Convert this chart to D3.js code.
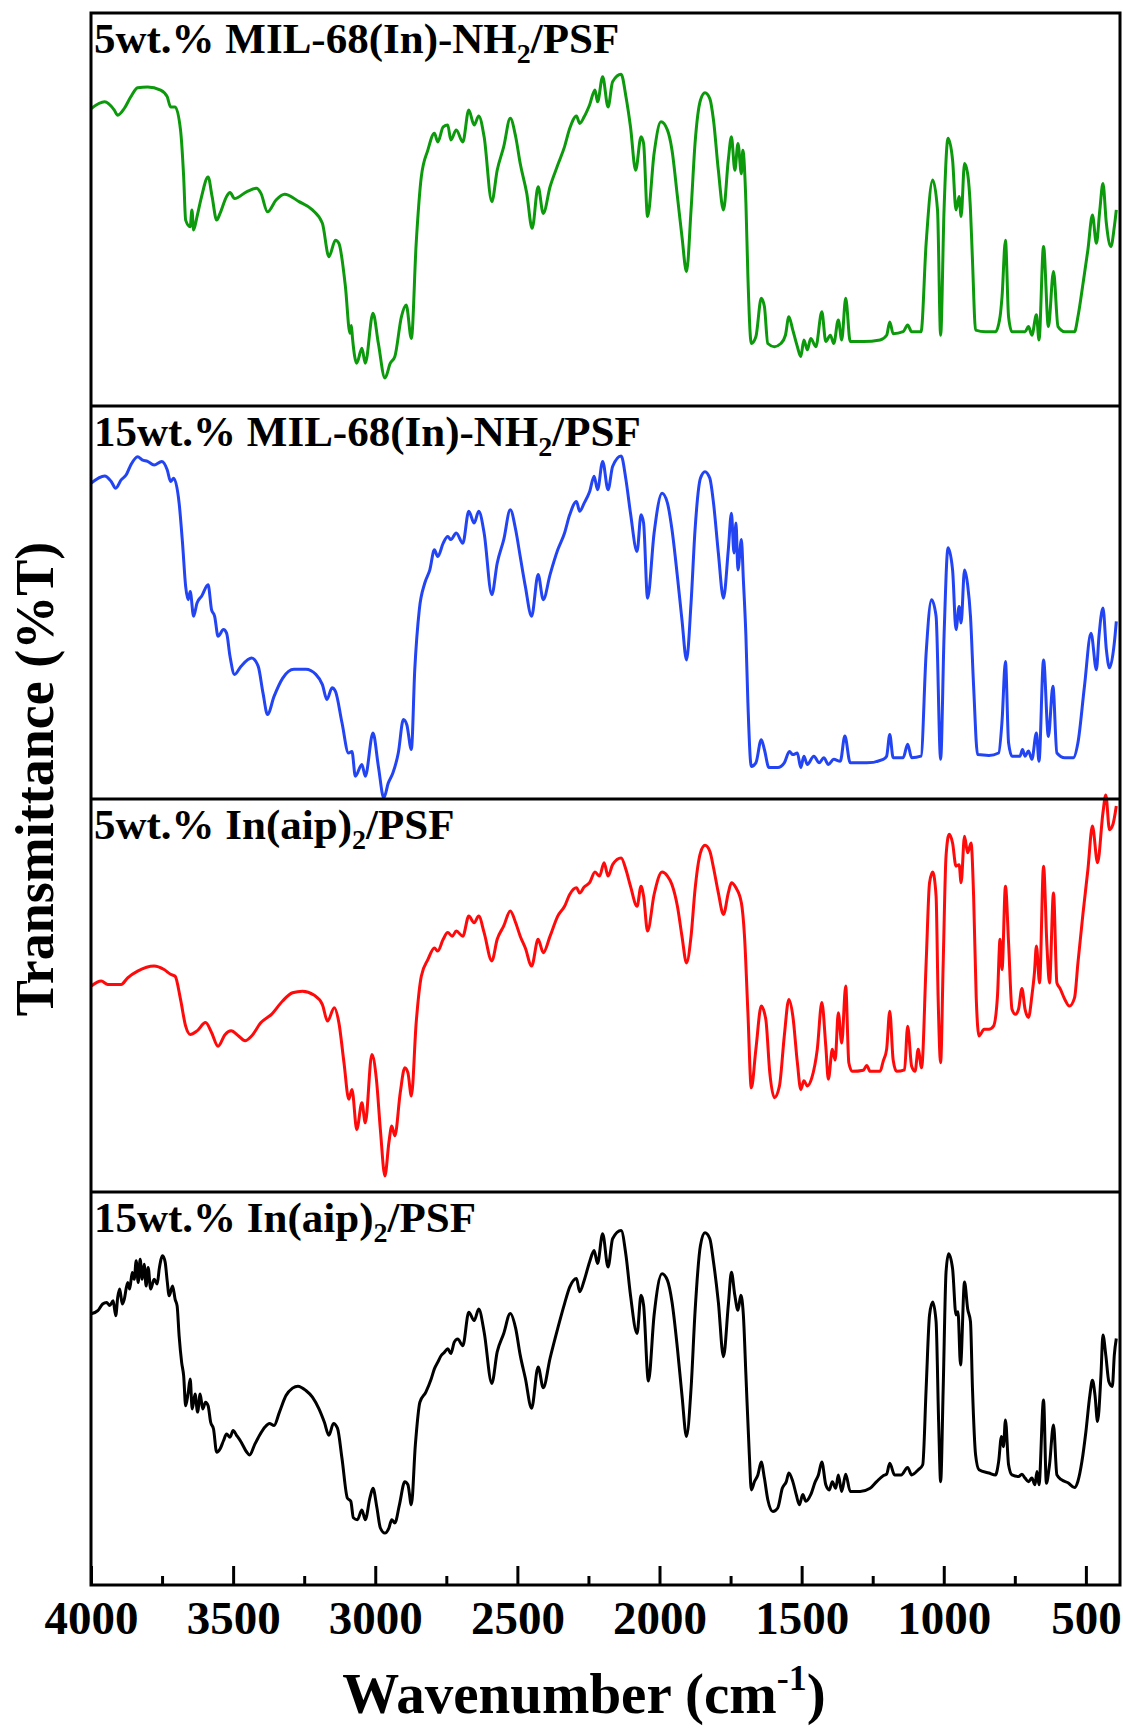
<!DOCTYPE html>
<html>
<head>
<meta charset="utf-8">
<script src="https://cdn.jsdelivr.net/npm/d3@7"></script>
<style>
  body { margin: 0; background: #fff; }
  svg text { font-family: "Liberation Serif", "Times New Roman", serif; font-weight: bold; fill: #000; }
</style>
</head>
<body>
<div id="chart"></div>
<script>
// FTIR spectra, [wavenumber (cm-1), transmittance (arb. %T, per panel)]
const mil5 = [[3999,75.7],[3952,77.4],[3918,75.3],[3906,74.0],[3883,75.7],[3860,78.7],[3836,81.0],[3801,81.2],[3755,80.4],[3732,78.7],[3720,76.1],[3704,76.1],[3685,70.2],[3674,58.3],[3667,47.3],[3651,45.6],[3645,49.9],[3639,44.8],[3627,48.2],[3611,53.3],[3588,58.3],[3574,53.3],[3558,47.3],[3546,49.0],[3523,53.3],[3511,54.3],[3495,52.8],[3453,54.5],[3418,55.4],[3402,54.1],[3379,49.4],[3349,52.4],[3319,53.9],[3268,52.0],[3221,49.9],[3186,46.5],[3163,38.0],[3140,42.2],[3128,41.4],[3105,30.4],[3089,18.5],[3084,20.5],[3080,17.2],[3065,10.9],[3047,14.7],[3035,10.9],[3008,23.6],[2989,15.9],[2966,7.1],[2947,10.9],[2931,12.6],[2908,22.7],[2891,25.7],[2873,17.2],[2856,41.4],[2838,58.3],[2815,65.1],[2792,69.4],[2780,67.2],[2761,71.0],[2745,71.5],[2734,67.7],[2715,70.2],[2692,67.2],[2671,75.3],[2652,71.5],[2636,73.8],[2617,68.5],[2590,52.0],[2571,60.0],[2548,66.0],[2525,73.2],[2506,68.5],[2490,61.7],[2467,54.1],[2448,45.2],[2427,55.8],[2409,49.0],[2385,55.8],[2358,61.3],[2334,66.0],[2316,70.6],[2292,73.8],[2281,71.9],[2265,73.6],[2246,76.6],[2227,80.4],[2218,77.4],[2200,83.8],[2181,76.1],[2165,82.5],[2135,84.4],[2118,78.7],[2102,71.0],[2084,60.0],[2065,68.5],[2056,66.8],[2042,48.2],[2019,64.3],[1995,72.3],[1972,70.2],[1956,65.1],[1937,53.3],[1921,43.1],[1905,34.2],[1889,49.9],[1875,66.8],[1856,77.8],[1840,79.7],[1823,78.2],[1810,72.7],[1793,60.0],[1775,49.9],[1758,62.6],[1747,68.5],[1735,60.0],[1724,66.8],[1712,59.1],[1707,65.1],[1696,51.6],[1689,32.9],[1677,15.9],[1661,17.6],[1642,27.4],[1631,25.3],[1619,15.9],[1596,15.1],[1573,15.9],[1557,18.0],[1545,22.7],[1531,19.3],[1515,15.1],[1503,12.6],[1492,16.8],[1480,14.3],[1468,17.2],[1450,15.1],[1429,24.0],[1415,16.4],[1399,18.0],[1387,15.9],[1371,21.9],[1359,16.8],[1345,27.4],[1329,16.4],[1283,16.4],[1224,16.8],[1201,18.0],[1190,21.4],[1178,18.4],[1143,18.9],[1127,20.6],[1113,18.9],[1080,18.9],[1062,41.4],[1039,57.5],[1022,49.9],[1011,18.0],[999,49.9],[985,68.1],[969,62.6],[957,49.9],[946,53.3],[939,48.2],[927,61.7],[916,59.1],[906,49.9],[899,37.1],[888,19.3],[853,18.9],[818,18.9],[802,22.7],[795,27.8],[783,42.2],[772,22.7],[760,18.9],[714,18.9],[702,20.2],[690,18.0],[674,23.2],[665,16.8],[649,40.6],[632,20.2],[614,34.2],[598,20.2],[574,18.9],[540,18.9],[528,22.7],[510,31.2],[493,39.7],[477,48.6],[463,41.4],[451,49.9],[440,56.6],[428,46.5],[412,40.6],[400,45.6],[393,49.9]];

const mil15 = [[3999,80.4],[3952,82.2],[3929,80.8],[3913,79.1],[3894,81.2],[3876,82.5],[3860,85.0],[3836,87.1],[3820,86.3],[3801,85.9],[3778,85.0],[3751,85.9],[3732,83.8],[3720,80.8],[3709,81.6],[3690,75.3],[3678,65.1],[3667,54.1],[3658,50.7],[3651,52.8],[3639,46.5],[3627,49.9],[3611,51.6],[3588,54.5],[3576,48.2],[3565,46.5],[3553,41.4],[3534,43.1],[3523,42.2],[3511,36.3],[3495,31.7],[3472,33.8],[3435,35.9],[3412,33.8],[3395,27.0],[3379,21.5],[3356,26.1],[3326,30.7],[3286,33.0],[3244,33.0],[3209,31.7],[3186,29.1],[3170,25.3],[3152,28.3],[3140,27.4],[3117,19.4],[3094,11.7],[3082,12.1],[3070,5.8],[3047,8.8],[3035,5.8],[3008,16.8],[2989,8.3],[2970,0.3],[2954,4.1],[2938,6.6],[2919,11.7],[2901,20.2],[2889,18.9],[2873,12.6],[2861,32.9],[2845,48.2],[2826,54.9],[2808,58.3],[2792,63.4],[2780,61.7],[2761,65.1],[2745,66.8],[2734,66.0],[2715,67.7],[2692,65.1],[2671,73.2],[2652,70.2],[2636,73.2],[2617,67.7],[2590,52.0],[2571,60.0],[2548,66.0],[2525,73.6],[2506,68.5],[2490,61.7],[2472,54.1],[2450,46.5],[2427,57.1],[2409,50.7],[2385,57.1],[2358,63.4],[2334,67.7],[2316,72.3],[2292,75.7],[2281,73.2],[2265,75.3],[2246,78.2],[2230,82.1],[2218,78.7],[2200,85.9],[2181,78.7],[2165,84.6],[2135,87.3],[2118,81.2],[2102,72.7],[2079,63.0],[2065,72.3],[2056,70.2],[2042,51.1],[2019,67.7],[1991,77.8],[1972,75.3],[1956,68.5],[1937,56.6],[1921,45.6],[1905,35.4],[1889,49.9],[1875,68.5],[1856,81.6],[1840,83.3],[1823,81.6],[1810,75.3],[1793,62.6],[1775,51.1],[1758,63.4],[1747,72.7],[1738,62.6],[1731,70.2],[1724,58.3],[1712,66.0],[1705,55.8],[1696,41.4],[1689,24.4],[1677,8.3],[1661,9.2],[1642,15.1],[1631,12.6],[1615,8.0],[1584,8.0],[1561,9.2],[1543,12.1],[1531,11.3],[1515,11.7],[1503,8.0],[1492,10.9],[1480,8.8],[1457,10.9],[1438,9.2],[1422,10.5],[1406,8.8],[1387,10.1],[1364,9.6],[1348,16.0],[1329,9.2],[1271,9.2],[1213,10.1],[1201,10.9],[1190,16.4],[1178,10.5],[1143,10.5],[1127,13.9],[1113,10.5],[1080,10.9],[1062,37.1],[1043,50.7],[1027,46.5],[1011,10.1],[999,41.4],[985,63.9],[969,58.3],[957,43.1],[946,49.0],[939,44.8],[927,58.3],[916,54.5],[906,46.5],[895,28.7],[881,11.3],[841,11.1],[807,11.7],[795,19.8],[783,35.0],[772,14.3],[760,10.9],[732,10.9],[723,12.6],[714,10.9],[702,12.2],[690,10.1],[674,16.8],[665,9.6],[649,35.4],[632,15.9],[616,28.7],[602,11.7],[574,10.5],[544,10.5],[528,14.3],[505,28.7],[482,42.2],[463,32.9],[454,41.4],[440,48.6],[428,38.0],[417,33.4],[400,39.7],[393,45.2]];

const aip5 = [[3999,52.4],[3964,53.7],[3941,52.8],[3894,52.8],[3871,54.5],[3836,56.2],[3778,57.5],[3743,56.6],[3720,55.4],[3704,54.9],[3685,49.0],[3667,42.2],[3651,40.1],[3627,41.0],[3597,43.1],[3576,40.6],[3553,37.1],[3528,40.1],[3507,41.0],[3481,39.7],[3458,38.5],[3435,39.7],[3402,43.1],[3365,45.2],[3326,48.6],[3291,50.7],[3256,51.1],[3216,50.1],[3186,47.7],[3168,43.5],[3144,46.9],[3128,43.1],[3110,32.9],[3093,23.6],[3082,26.1],[3065,15.9],[3047,22.7],[3035,17.6],[3012,35.0],[2996,28.7],[2982,15.9],[2966,4.1],[2952,12.6],[2942,16.8],[2931,14.3],[2912,25.3],[2896,31.6],[2885,30.3],[2873,24.4],[2856,43.1],[2838,54.9],[2815,59.1],[2792,62.1],[2780,61.3],[2761,64.3],[2745,66.0],[2729,65.1],[2715,66.4],[2692,65.1],[2671,70.2],[2652,68.5],[2636,70.2],[2617,66.0],[2590,58.8],[2571,64.3],[2548,67.7],[2525,71.5],[2506,68.5],[2490,65.1],[2472,62.1],[2450,57.5],[2427,64.3],[2409,60.9],[2385,65.1],[2358,70.2],[2334,72.7],[2316,75.7],[2292,77.4],[2281,76.1],[2265,77.6],[2246,78.7],[2227,81.4],[2211,80.4],[2195,83.8],[2181,80.4],[2165,83.3],[2135,85.0],[2118,82.0],[2102,77.8],[2079,72.7],[2065,77.8],[2056,75.3],[2042,66.4],[2019,75.7],[1991,81.4],[1972,80.4],[1956,78.2],[1937,72.7],[1921,65.1],[1905,58.3],[1889,65.1],[1875,77.0],[1856,86.3],[1840,88.2],[1823,86.7],[1810,82.5],[1793,76.1],[1775,70.6],[1758,76.1],[1747,78.7],[1731,77.4],[1712,73.6],[1701,65.1],[1689,45.6],[1677,26.5],[1661,36.3],[1642,47.3],[1626,43.9],[1612,30.3],[1596,24.0],[1578,27.0],[1561,39.7],[1545,49.0],[1531,44.8],[1515,32.9],[1503,26.1],[1492,28.3],[1480,27.0],[1464,29.1],[1445,36.3],[1429,48.2],[1415,37.1],[1406,28.7],[1392,36.3],[1382,33.6],[1371,45.6],[1359,37.9],[1345,52.4],[1334,32.9],[1322,30.7],[1283,31.0],[1271,32.2],[1259,30.7],[1224,30.7],[1213,33.3],[1201,36.3],[1190,46.0],[1178,33.6],[1166,30.7],[1138,31.1],[1127,42.2],[1113,32.0],[1101,30.7],[1090,36.3],[1078,31.6],[1062,58.3],[1050,78.7],[1039,81.4],[1027,75.3],[1020,49.9],[1011,32.9],[1002,58.3],[992,85.5],[981,91.0],[969,88.8],[957,82.9],[946,83.3],[939,78.7],[927,90.5],[916,86.3],[904,88.8],[895,75.3],[886,49.9],[876,39.7],[858,41.4],[841,41.4],[825,42.2],[811,49.9],[802,64.3],[795,56.6],[783,77.8],[772,63.4],[760,46.5],[748,45.2],[737,46.5],[725,51.8],[714,46.5],[702,44.4],[690,49.9],[681,55.8],[674,62.6],[663,53.2],[649,82.9],[637,62.6],[628,53.2],[614,76.1],[602,53.2],[591,51.8],[574,49.0],[558,47.3],[540,49.4],[528,58.3],[510,71.0],[493,82.0],[477,93.1],[459,83.8],[440,96.5],[430,101],[417,92.2],[405,93.5],[393,98.2]];

const aip15 = [[3999,69.0],[3976,69.8],[3959,71.5],[3945,71.9],[3934,71.1],[3922,72.3],[3913,68.5],[3906,73.2],[3899,75.3],[3890,71.5],[3883,72.7],[3871,77.0],[3864,75.3],[3855,79.5],[3848,77.8],[3841,82.5],[3834,77.0],[3827,82.9],[3820,77.8],[3813,81.6],[3806,76.1],[3799,80.8],[3790,75.3],[3778,77.8],[3767,76.6],[3760,80.4],[3748,83.8],[3739,82.1],[3732,77.4],[3725,73.6],[3713,76.1],[3704,72.7],[3697,71.0],[3690,63.4],[3681,56.6],[3674,53.2],[3667,45.6],[3658,49.0],[3651,52.4],[3644,44.8],[3634,48.6],[3625,44.0],[3616,48.6],[3607,44.8],[3597,46.5],[3588,45.6],[3579,41.4],[3569,39.7],[3558,33.8],[3546,34.6],[3534,36.7],[3523,38.4],[3511,37.6],[3500,39.3],[3488,38.1],[3472,36.4],[3453,33.9],[3442,33.1],[3425,35.6],[3407,38.1],[3388,40.2],[3372,41.1],[3356,40.6],[3337,44.0],[3314,48.2],[3291,50.1],[3272,50.6],[3244,49.5],[3221,47.8],[3198,44.8],[3179,41.4],[3163,38.1],[3147,41.1],[3133,39.9],[3117,32.2],[3098,22.1],[3086,21.3],[3077,17.1],[3063,16.6],[3047,19.1],[3035,16.6],[3019,22.1],[3008,24.6],[2994,19.6],[2982,14.5],[2966,13.2],[2952,14.5],[2942,16.6],[2931,15.8],[2915,20.4],[2896,26.3],[2885,25.5],[2873,20.4],[2859,35.6],[2843,46.5],[2822,49.1],[2803,52.5],[2792,55.0],[2780,56.7],[2768,58.4],[2757,59.2],[2745,60.1],[2734,58.9],[2722,61.8],[2710,62.6],[2692,60.9],[2671,69.4],[2652,67.3],[2636,70.2],[2617,64.4],[2590,51.3],[2571,59.3],[2548,64.0],[2525,69.1],[2506,65.3],[2490,58.5],[2472,52.6],[2450,45.0],[2427,55.5],[2409,50.2],[2385,57.7],[2358,65.3],[2334,71.6],[2316,75.8],[2292,78.0],[2281,74.6],[2265,77.5],[2246,82.2],[2230,85.1],[2218,81.8],[2200,89.4],[2181,80.9],[2165,88.1],[2135,90.2],[2118,83.9],[2102,73.7],[2079,64.0],[2065,73.7],[2056,71.2],[2039,51.9],[2019,68.7],[1991,79.2],[1972,77.5],[1956,72.0],[1937,60.2],[1921,48.3],[1905,37.8],[1889,50.0],[1875,69.5],[1856,86.4],[1840,89.6],[1823,88.1],[1810,82.2],[1793,72.0],[1775,58.1],[1758,71.2],[1747,79.6],[1735,73.7],[1724,69.9],[1714,73.7],[1705,68.7],[1696,53.4],[1684,33.1],[1677,24.2],[1666,26.3],[1654,28.0],[1642,31.3],[1631,27.2],[1619,21.7],[1601,18.7],[1584,19.6],[1568,24.6],[1554,26.3],[1545,28.5],[1531,26.3],[1519,23.0],[1508,20.4],[1496,23.0],[1485,21.3],[1468,23.0],[1452,26.3],[1441,28.0],[1429,31.3],[1415,25.5],[1403,24.2],[1392,26.3],[1380,24.6],[1371,28.0],[1359,23.8],[1345,28.2],[1329,23.8],[1294,23.8],[1259,24.6],[1236,26.3],[1213,27.8],[1201,28.2],[1190,31.0],[1173,28.0],[1150,28.0],[1127,29.9],[1113,28.0],[1090,29.3],[1074,30.6],[1062,50.0],[1050,68.7],[1039,72.0],[1027,67.0],[1018,41.4],[1011,26.3],[1002,50.0],[992,79.6],[983,84.3],[969,80.5],[957,68.7],[950,69.5],[941,56.0],[927,77.1],[916,70.3],[906,67.0],[899,50.0],[888,33.1],[876,29.3],[841,28.5],[818,28.0],[807,31.4],[797,37.8],[790,35.2],[783,42.0],[772,30.6],[760,28.0],[737,27.6],[725,28.2],[714,27.2],[702,26.3],[690,27.2],[679,25.5],[672,28.9],[665,25.5],[649,47.1],[639,25.9],[628,30.6],[614,40.7],[602,28.0],[586,26.8],[563,26.0],[540,24.8],[528,26.4],[514,31.4],[500,39.0],[486,48.3],[477,52.1],[468,48.3],[459,41.6],[447,53.4],[440,63.6],[430,58.5],[419,51.7],[407,50.5],[400,58.5],[393,62.7]];

const seriesData = [mil5, mil15, aip5, aip15];
const seriesColors = ["#0c9a0c", "#2244f2", "#ff0a0a", "#000000"];
// title pieces: [before, subscript, after]
const panelTitles = [
  ["5wt.% MIL-68(In)-NH", "2", "/PSF"],
  ["15wt.% MIL-68(In)-NH", "2", "/PSF"],
  ["5wt.% In(aip)", "2", "/PSF"],
  ["15wt.% In(aip)", "2", "/PSF"]
];
const majorTicks = [4000, 3500, 3000, 2500, 2000, 1500, 1000, 500];
const minorTicks = [3750, 3250, 2750, 2250, 1750, 1250, 750];

const W = 1123, H = 1728;
const plotL = 91, plotR = 1120, plotT = 13, plotB = 1585;
const panelH = (plotB - plotT) / seriesData.length;

const svg = d3.select("#chart").append("svg")
  .attr("width", W)
  .attr("height", H);

const x = d3.scaleLinear().domain([4000, 380]).range([plotL, plotR]);

seriesData.forEach((data, i) => {
  const pTop = plotT + i * panelH;
  const y = d3.scaleLinear().domain([0, 100]).range([pTop + panelH, pTop]);

  const line = d3.line()
    .x(d => x(d[0]))
    .y(d => y(d[1]))
    .curve(d3.curveMonotoneX);

  svg.append("path")
    .datum(data)
    .attr("d", line)
    .attr("fill", "none")
    .attr("stroke", seriesColors[i])
    .attr("stroke-width", 3)
    .attr("stroke-linejoin", "round");

  const t = svg.append("text")
    .attr("x", plotL + 3)
    .attr("y", pTop + 40)
    .attr("font-size", 43);
  t.append("tspan").text(panelTitles[i][0]);
  t.append("tspan").attr("dy", 10).attr("font-size", 28).text(panelTitles[i][1]);
  t.append("tspan").attr("dy", -10).text(panelTitles[i][2]);

  if (i > 0) {
    svg.append("line")
      .attr("x1", plotL).attr("x2", plotR)
      .attr("y1", pTop).attr("y2", pTop)
      .attr("stroke", "#000")
      .attr("stroke-width", 3);
  }
});

// outer frame
svg.append("rect")
  .attr("x", plotL).attr("y", plotT)
  .attr("width", plotR - plotL).attr("height", plotB - plotT)
  .attr("fill", "none")
  .attr("stroke", "#000")
  .attr("stroke-width", 3);

// bottom axis, ticks pointing inward
const gMajor = svg.append("g")
  .attr("transform", `translate(0,${plotB})`)
  .call(d3.axisBottom(x).tickValues(majorTicks).tickSize(-19).tickPadding(16).tickFormat(d3.format("d")));
gMajor.select(".domain").remove();
gMajor.selectAll(".tick line").attr("stroke", "#000").attr("stroke-width", 3);
gMajor.selectAll(".tick text")
  .attr("font-size", 47)
  .attr("font-family", "Liberation Serif, serif")
  .attr("font-weight", "bold");

const gMinor = svg.append("g")
  .attr("transform", `translate(0,${plotB})`)
  .call(d3.axisBottom(x).tickValues(minorTicks).tickSize(-9).tickFormat(""));
gMinor.select(".domain").remove();
gMinor.selectAll(".tick line").attr("stroke", "#000").attr("stroke-width", 3);

// axis titles
const xl = svg.append("text")
  .attr("x", 584)
  .attr("y", 1713)
  .attr("text-anchor", "middle")
  .attr("font-size", 57);
xl.append("tspan").text("Wavenumber (cm");
xl.append("tspan").attr("dy", -23).attr("font-size", 36).text("-1");
xl.append("tspan").attr("dy", 23).text(")");

svg.append("text")
  .attr("transform", "translate(53,779) rotate(-90)")
  .attr("text-anchor", "middle")
  .attr("font-size", 54)
  .text("Transmittance (%T)");
</script>
</body>
</html>
